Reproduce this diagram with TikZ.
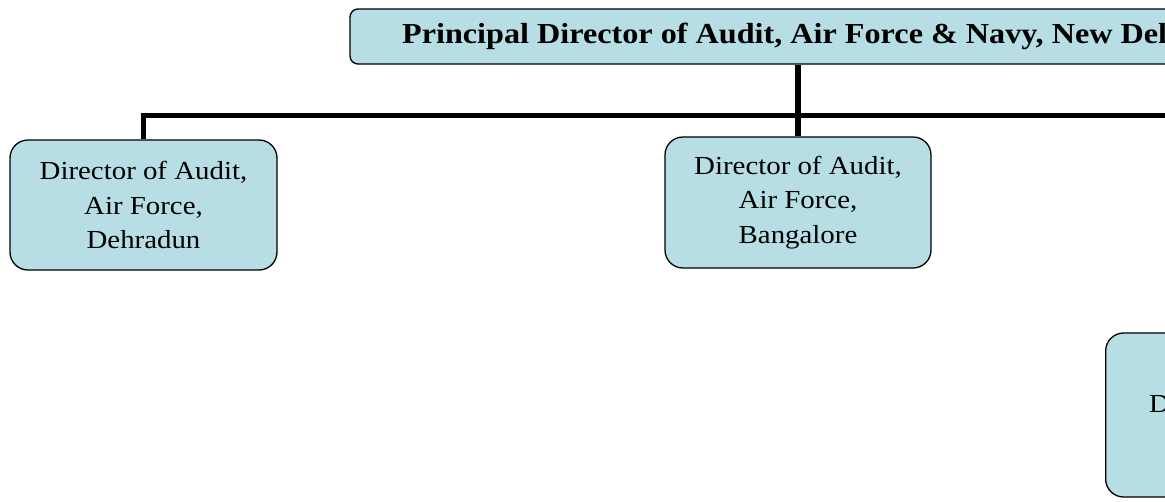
\documentclass[tikz,border=0pt]{standalone}
\usepackage{fontspec}
\setmainfont[FakeStretch=1.11]{Liberation Serif}
\usepackage{tikz}
\usetikzlibrary{positioning,calc}
\definecolor{boxfill}{RGB}{183,222,228}

\begin{document}
\begin{tikzpicture}[x=1pt,y=-1pt,
officebox/.style={draw,fill=boxfill,line width=1.3pt,rounded corners=18pt,
  align=center,inner sep=0pt,font=\fontsize{26}{34.5}\selectfont},
link/.style={line width=5.5pt}]
\useasboundingbox (0,0) rectangle (1165,501);
\node (pda) at (798,36.5) [officebox,rounded corners=8pt,minimum width=896pt,minimum height=55pt,font=\bfseries\fontsize{29}{34}\selectfont] {Principal Director of Audit, Air Force \& Navy, New Delhi};
\node (dadun) at (143.5,205) [officebox,minimum width=267pt,minimum height=130pt] {Director of Audit,\\Air Force,\\Dehradun};
\node (dablr) at (798,202.5) [officebox,minimum width=266pt,minimum height=131pt] {Director of Audit,\\Air Force,\\Bangalore};
\node (dalow) at (1105,415) [officebox,anchor=west,minimum width=267pt,minimum height=164pt,text width=180pt,inner xsep=41pt,align=left,text height=20pt,text depth=26pt] {D};
\coordinate (bar) at (798,115.5);
\coordinate (barend) at (1453,115.5);

\draw[link] (pda) -- (dablr);
\draw[link] (dadun.north) |- (barend);

\end{tikzpicture}
\end{document}
